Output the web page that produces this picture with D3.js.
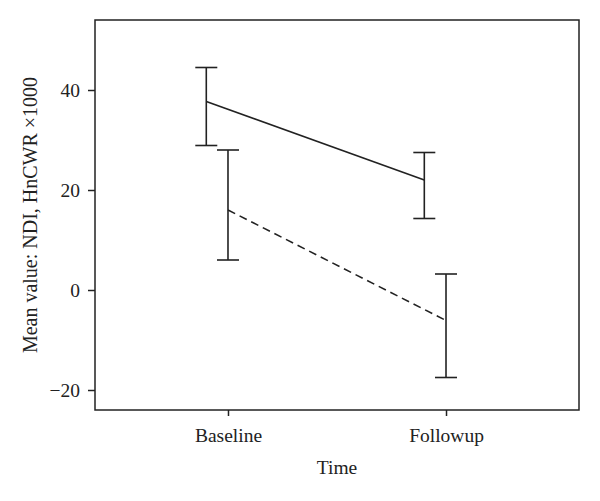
<!DOCTYPE html>
<html>
<head>
<meta charset="utf-8">
<script src="https://cdn.jsdelivr.net/npm/d3@7"></script>
<style>
  body { margin: 0; background: #fff; }
  text { font-family: "Liberation Serif", "DejaVu Serif", serif; fill: #222; }
</style>
</head>
<body>
<svg id="chart" width="600" height="501"></svg>
<script>
// -----------------------------------------------------------------------------

var times = ['Baseline', 'Followup'];
var yTicks = [-20, 0, 20, 40];

// solid series (shifted left of the tick)
var solidMean = [37.7, 22.0];
var solidLow = [28.9, 14.3];
var solidHigh = [44.5, 27.5];

// dashed series (on the tick)
var dashedMean = [16.0, -6.1];
var dashedLow = [6.0, -17.5];
var dashedHigh = [28.0, 3.2];

// -----------------------------------------------------------------------------

var svg = d3.select('#chart');
var margin = { left: 95, top: 20, right: 21, bottom: 91 };
var width = 600 - margin.left - margin.right;
var height = 501 - margin.top - margin.bottom;
var ink = '#222';

var x = d3.scalePoint()
  .domain(times)
  .range([0, width])
  .padding(0.61);

var y = d3.scaleLinear()
  .domain([-24, 54])
  .range([height, 0]);

var g = svg.append('g')
  .attr('transform', 'translate(' + margin.left + ',' + margin.top + ')');

// - - - - - - - - - - - - - - - - - - - - - - - - - - - - - - - - - - - - - -

g.append('rect')
  .attr('x', 0)
  .attr('y', 0)
  .attr('width', width)
  .attr('height', height)
  .attr('fill', 'none')
  .attr('stroke', ink)
  .attr('stroke-width', 1.5);

var yAxis = g.append('g')
  .call(d3.axisLeft(y).tickValues(yTicks).tickSize(7).tickPadding(8)
    .tickFormat(function (d) { return d < 0 ? '\u2212' + Math.abs(d) : d; }));
yAxis.select('.domain').remove();
yAxis.selectAll('line').attr('stroke', ink).attr('stroke-width', 1.5);
yAxis.selectAll('text')
  .attr('font-size', 19.5)
  .attr('font-family', '"Liberation Serif", serif')
  .attr('fill', ink);

var xAxis = g.append('g')
  .attr('transform', 'translate(0,' + height + ')')
  .call(d3.axisBottom(x).tickSize(6).tickPadding(12));
xAxis.select('.domain').remove();
xAxis.selectAll('line').attr('stroke', ink).attr('stroke-width', 1.5);
xAxis.selectAll('text')
  .attr('font-size', 19.5)
  .attr('font-family', '"Liberation Serif", serif')
  .attr('fill', ink);

// - - - - - - - - - - - - - - - - - - - - - - - - - - - - - - - - - - - - - -

function drawSeries(mean, low, high, offset, dash) {
  var pts = times.map(function (t, i) {
    return { t: t, mean: mean[i], low: low[i], high: high[i] };
  });
  var px = function (d) { return x(d.t) + offset; };

  g.append('path')
    .datum(pts)
    .attr('fill', 'none')
    .attr('stroke', ink)
    .attr('stroke-width', 1.6)
    .attr('stroke-dasharray', dash)
    .attr('d', d3.line().x(px).y(function (d) { return y(d.mean); }));

  var bars = g.append('g')
    .selectAll('g')
    .data(pts)
    .join('g')
    .attr('stroke', ink)
    .attr('stroke-width', 1.6);

  bars.append('line')
    .attr('x1', px).attr('x2', px)
    .attr('y1', function (d) { return y(d.low); })
    .attr('y2', function (d) { return y(d.high); });

  bars.append('line')
    .attr('x1', function (d) { return px(d) - 11; })
    .attr('x2', function (d) { return px(d) + 11; })
    .attr('y1', function (d) { return y(d.high); })
    .attr('y2', function (d) { return y(d.high); });

  bars.append('line')
    .attr('x1', function (d) { return px(d) - 11; })
    .attr('x2', function (d) { return px(d) + 11; })
    .attr('y1', function (d) { return y(d.low); })
    .attr('y2', function (d) { return y(d.low); });
}

drawSeries(solidMean, solidLow, solidHigh, -21.7, null);
drawSeries(dashedMean, dashedLow, dashedHigh, 0, '8,5');

// - - - - - - - - - - - - - - - - - - - - - - - - - - - - - - - - - - - - - -

svg.append('text')
  .attr('x', margin.left + width / 2)
  .attr('y', 474)
  .attr('text-anchor', 'middle')
  .attr('font-size', 19.5)
  .text('Time');

svg.append('text')
  .attr('transform', 'translate(37,' + (margin.top + height / 2) + ') rotate(-90)')
  .attr('text-anchor', 'middle')
  .attr('font-size', 20)
  .text('Mean value: NDI, HnCWR \u00d71000');

// -----------------------------------------------------------------------------
</script>
</body>
</html>
